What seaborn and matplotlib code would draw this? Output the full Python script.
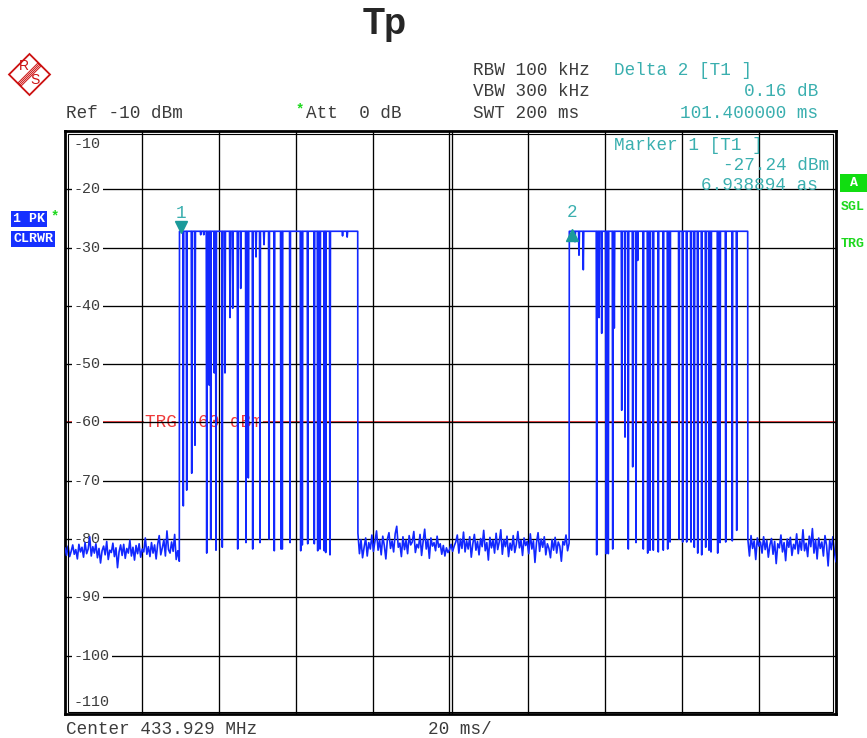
import numpy as np
import pandas as pd
import seaborn as sns
from matplotlib import pyplot as plt
from matplotlib import transforms
from matplotlib.patches import Polygon, Rectangle

# ---- data ----
burst_top = -27.2

# burst 1 : 29.7 ms .. 75.9 ms
burst1_start, burst1_end = 29.7, 75.93
burst1_dip_ms = [30.69, 31.57, 32.87, 33.72, 35.2, 36.0, 36.76, 37.43, 37.80, 38.73, 39.17,
                 40.80, 41.50, 42.80, 43.50, 44.80, 45.58, 46.95, 47.55, 48.69, 49.55,
                 50.58, 51.62, 52.92, 54.29, 56.03, 56.37, 58.37, 61.14, 61.56, 62.96,
                 64.67, 65.55, 66.15, 67.26, 67.63, 68.74, 72.0, 73.2]
burst1_dip_db = [-74.3, -71.6, -68.7, -63.9, -27.8, -27.8, -82.4, -53.6, -80.0, -51.5, -81.9,
                 -81.4, -51.5, -42.0, -40.4, -81.7, -37.0, -80.6, -69.5, -81.7, -31.6,
                 -80.6, -29.5, -80.0, -82.0, -81.7, -81.7, -80.6, -82.0, -81.0, -80.8,
                 -80.8, -82.0, -81.7, -82.0, -82.3, -82.7, -28.0, -28.2]

# burst 2 : 130.8 ms .. 177.1 ms
burst2_start, burst2_end = 130.82, 177.09
burst2_dip_ms = [132.30, 133.33, 134.45, 137.92, 138.52, 139.22, 140.34, 140.93, 142.08,
                 142.49, 144.41, 145.27, 146.12, 147.26, 148.12, 148.56, 150.01, 151.15,
                 151.75, 152.61, 153.90, 155.20, 156.34, 156.94, 159.27, 160.23, 161.27,
                 162.39, 163.24, 164.13, 165.16, 166.20, 167.06, 167.57, 169.31, 169.91,
                 171.39, 173.10, 174.24]
burst2_dip_db = [-29.0, -31.3, -33.8, -82.7, -42.0, -44.7, -82.5, -82.5, -81.7,
                 -43.8, -57.9, -62.5, -81.7, -67.6, -80.6, -32.2, -81.7, -82.4,
                 -81.9, -81.9, -82.2, -81.9, -81.7, -80.5, -80.0, -80.5, -80.5,
                 -80.5, -81.4, -82.4, -82.7, -81.4, -81.9, -82.2, -82.4, -80.6,
                 -80.5, -80.3, -78.5]

# noise floor between the bursts
noise_a = [-81.5, -82.8, -81.2, -83.0, -82.1, -81.0, -82.6, -81.8, -83.4, -80.9,
           -82.2, -81.4, -83.1, -80.6, -82.5, -81.7, -79.6, -82.9, -81.3, -82.4,
           -80.8, -83.2, -81.6, -84.1, -82.0, -81.2, -82.7, -80.4, -83.5, -81.9,
           -82.3, -80.7, -83.0, -81.5, -84.9, -82.2, -81.0, -82.8, -80.9, -83.3,
           -81.6, -82.4, -80.2, -82.9, -81.4, -83.6, -81.1, -82.5, -80.8, -83.1,
           -81.7, -82.2, -79.8, -82.6, -81.3, -83.0, -80.6, -82.4, -81.0, -83.4,
           -80.9, -79.4, -82.7, -81.5, -80.1, -82.9, -78.6, -81.8, -82.4, -80.5,
           -82.1, -79.2, -83.5, -82.0, -83.8]
noise_b = [-79.0, -82.5, -80.1, -83.2, -81.4, -79.8, -82.9, -80.6, -81.7, -79.3,
           -82.1, -80.4, -78.6, -81.9, -80.2, -82.7, -79.5, -81.1, -83.4, -80.0,
           -78.9, -81.6, -80.3, -82.2, -79.1, -77.8, -81.4, -80.7, -83.0, -79.6,
           -81.8, -80.2, -82.5, -79.4, -81.0, -80.5, -78.7, -82.3, -80.9, -81.5,
           -79.2, -82.8, -80.4, -78.3, -81.7, -80.1, -83.3, -79.8, -81.2, -80.6,
           -82.0, -79.5, -81.4, -80.8, -82.6, -81.1, -82.9, -81.5, -82.3, -81.8,
           -80.9, -82.1, -81.2, -80.5, -79.3, -82.4, -80.0, -81.6, -78.8, -82.2,
           -80.3, -81.7, -79.6, -83.1, -80.8, -79.2, -81.9, -80.4, -82.7, -79.9,
           -81.3, -78.5, -82.0, -80.6, -83.6, -79.7, -81.5, -80.2, -82.4, -79.0,
           -81.8, -80.5, -78.4, -82.6, -80.1, -81.3, -79.5, -83.0, -80.7, -81.9,
           -79.4, -82.3, -80.9, -78.7, -81.5, -80.2, -82.8, -79.8, -81.1, -80.4,
           -82.5, -79.1, -81.7, -80.3, -84.0, -80.6, -78.9, -82.1, -80.0, -81.4,
           -79.6, -82.7, -80.8, -81.6, -83.2, -80.1, -81.9, -79.7, -82.4, -80.5,
           -81.2, -83.8, -80.4, -81.0, -79.3, -82.0, -80.7]
noise_c = [-80.1, -82.9, -79.4, -81.6, -80.3, -83.5, -79.8, -81.2, -80.5, -82.4,
           -79.6, -81.8, -80.2, -83.1, -81.0, -79.9, -82.6, -80.4, -84.2, -80.8,
           -81.5, -79.3, -82.2, -80.6, -83.7, -80.0, -81.4, -79.7, -82.8, -80.9,
           -81.7, -79.1, -82.5, -80.3, -81.9, -78.4, -82.0, -80.7, -83.0, -79.5,
           -81.3, -78.2, -82.4, -80.1, -83.4, -79.8, -81.6, -80.5, -82.9, -79.4,
           -81.1, -84.6, -80.2, -81.8, -79.6, -82.3, -83.9]

marker1_ms, marker1_db = 30.09, -27.24
delta_ms, delta_db = 101.4, 0.16
trigger_db = -60

y_ticks = [-10, -20, -30, -40, -50, -60, -70, -80, -90, -100, -110]


def burst(t0, t1, dips_t, dips_db, top):
    ts, ys = [t0], [top]
    for t, d in zip(dips_t, dips_db):
        ts += [t - 0.12, t, t + 0.12]
        ys += [top, d, top]
    ts.append(t1)
    ys.append(top)
    return ts, ys


b1_t, b1_y = burst(burst1_start, burst1_end, burst1_dip_ms, burst1_dip_db, burst_top)
b2_t, b2_y = burst(burst2_start, burst2_end, burst2_dip_ms, burst2_dip_db, burst_top)

trace = pd.DataFrame({
    "ms": np.concatenate([np.linspace(0, burst1_start - 0.05, len(noise_a)), b1_t,
                          np.linspace(burst1_end + 0.05, burst2_start - 0.05, len(noise_b)), b2_t,
                          np.linspace(burst2_end + 0.05, 200, len(noise_c))]),
    "dbm": np.concatenate([noise_a, b1_y, noise_b, b2_y, noise_c]),
})

# ---- figure ----
sns.set_style("white")
plt.rcParams["font.family"] = ["Liberation Mono", "DejaVu Sans Mono"]

W, H = 867, 738
fig = plt.figure(figsize=(W / 100, H / 100), dpi=100)


def fx(px):
    return px / W


def fy(py):
    return 1 - py / H


teal = "#3aafaf"
green = "#1ed81e"
grey = "#3c3c3c"
fs = 12.7

ax = fig.add_axes([fx(65), fy(714), fx(771), 583 / H])
ax.set_xlim(0, 200)
ax.set_ylim(-110, -10)
ax.set_xticks([])
ax.set_yticks([])
for s in ax.spines.values():
    s.set_linewidth(2.0)
    s.set_color("black")
ax.add_patch(Rectangle((3 / 771, 2.5 / 583), 1 - 6 / 771, 1 - 5 / 583, transform=ax.transAxes,
                       fill=False, lw=0.8, ec="black", zorder=4))

for x in range(20, 200, 20):
    if x == 100:
        ax.axvline(x - 0.35, color="black", lw=0.95, zorder=2)
        ax.axvline(x + 0.35, color="black", lw=0.95, zorder=2)
    else:
        ax.axvline(x, color="black", lw=0.95, zorder=2)
for y in y_ticks[1:-1]:
    ax.axhline(y, color="black", lw=0.95, zorder=2)

# y labels inside the grid
for y in y_ticks:
    off = 0
    if y == -10:
        off = -13
    elif y == -110:
        off = 12
    tr = transforms.offset_copy(ax.transData, fig, y=off, units="dots")
    ax.text(2.3, y, str(y), transform=tr, fontsize=10.8, color=grey,
            va="center", ha="left", zorder=2.5,
            bbox=dict(boxstyle="square,pad=0.12", fc="white", ec="none"))

# trigger level
ax.axhline(trigger_db, color="#ff1a1a", lw=1.1, zorder=1)
ax.text(20.75, trigger_db, "TRG -60 dBm", color="#ee3a3a", fontsize=fs, va="center",
        ha="left", zorder=1.5, bbox=dict(boxstyle="square,pad=0.05", fc="white", ec="none"))

sns.lineplot(data=trace, x="ms", y="dbm", sort=False, estimator=None, ax=ax,
             color="#1228ff", lw=1.2, zorder=3)
ax.set_xlabel("")
ax.set_ylabel("")

# markers
m2_ms, m2_db = marker1_ms + delta_ms, marker1_db + delta_db
ax.plot([marker1_ms], [marker1_db], marker="v", ms=8, color="#1a9a9a", mec="#1a9a9a",
        transform=transforms.offset_copy(ax.transData, fig, y=5, units="dots"), zorder=5)
ax.plot([m2_ms], [m2_db], marker="^", ms=8, color="#1a9a9a", mec="#1a9a9a",
        transform=transforms.offset_copy(ax.transData, fig, y=-4, units="dots"), zorder=5)
ax.text(marker1_ms, marker1_db, "1", color=teal, fontsize=fs, ha="center", va="center",
        transform=transforms.offset_copy(ax.transData, fig, y=18, units="dots"), zorder=5)
ax.text(m2_ms, m2_db, "2", color=teal, fontsize=fs, ha="center", va="center",
        transform=transforms.offset_copy(ax.transData, fig, y=18, units="dots"), zorder=5)

# ---- header / footer texts ----
fig.text(fx(385), fy(25), "Tp", fontsize=26, fontweight="bold", family="Liberation Sans",
         ha="center", va="center")

fig.text(fx(472.7), fy(70.7), "RBW 100 kHz", fontsize=fs, color=grey, va="center")
fig.text(fx(472.7), fy(91.7), "VBW 300 kHz", fontsize=fs, color=grey, va="center")
fig.text(fx(472.7), fy(113.3), "SWT 200 ms", fontsize=fs, color=grey, va="center")
fig.text(fx(614), fy(70.7), "Delta 2 [T1 ]", fontsize=fs, color=teal, va="center")
fig.text(fx(818), fy(91.7), f"{delta_db:.2f} dB", fontsize=fs, color=teal, va="center", ha="right")
fig.text(fx(818), fy(113.3), f"{delta_ms:.6f} ms", fontsize=fs, color=teal, va="center", ha="right")

fig.text(fx(65.7), fy(113.3), "Ref -10 dBm", fontsize=fs, color=grey, va="center")
fig.text(fx(296), fy(109), "*", fontsize=10, color=green, va="center", fontweight="bold")
fig.text(fx(305.7), fy(113.3), "Att  0 dB", fontsize=fs, color=grey, va="center")

fig.text(fx(614), fy(145), "Marker 1 [T1 ]", fontsize=fs, color=teal, va="center")
fig.text(fx(829), fy(165.7), f"{marker1_db:.2f} dBm", fontsize=fs, color=teal,
         va="center", ha="right")
fig.text(fx(818), fy(186), "6.938894 as", fontsize=fs, color=teal, va="center", ha="right")

fig.text(fx(65.7), fy(730), "Center 433.929 MHz", fontsize=fs, color=grey, va="center")
fig.text(fx(427.7), fy(730), "20 ms/", fontsize=fs, color=grey, va="center")

# left side trace boxes
fig.text(fx(13), fy(219), "1 PK", fontsize=9.5, fontweight="bold", color="white", va="center",
         bbox=dict(boxstyle="square,pad=0.15", fc="#1530ff", ec="none"))
fig.text(fx(51), fy(216), "*", fontsize=10, fontweight="bold", color=green, va="center")
fig.text(fx(13), fy(239), "CLRWR", fontsize=9.5, fontweight="bold", color="white", va="center",
         bbox=dict(boxstyle="square,pad=0.15", fc="#1530ff", ec="none"))

# right side status
fig.patches.append(Rectangle((fx(840), fy(192)), fx(27), 18 / H, transform=fig.transFigure,
                             fc="#11dd11", ec="none"))
fig.text(fx(854), fy(183), "A", fontsize=9.5, fontweight="bold", color="white", va="center",
         ha="center")
fig.text(fx(840.5), fy(207), "SGL", fontsize=9.5, fontweight="bold", color=green, va="center")
fig.text(fx(840.5), fy(244), "TRG", fontsize=9.5, fontweight="bold", color=green, va="center")

# R&S logo
lg = fig.add_axes([0, fy(100), fx(60), 50 / H])
lg.set_xlim(0, 60)
lg.set_ylim(100, 50)
lg.axis("off")
red = "#cc1111"
lg.add_patch(Polygon([(9, 74.5), (29.5, 54), (50, 74.5), (29.5, 95)], closed=True,
                     fill=False, ec=red, lw=1.3))
for o in [-2.2, -0.75, 0.75, 2.2]:
    lg.plot([39.75 + o * 0.707, 19.25 + o * 0.707], [64.25 + o * 0.707, 84.75 + o * 0.707],
            color=red, lw=0.7)
lg.text(24, 66.5, "R", color=red, fontsize=10, family="Liberation Sans", ha="center", va="center")
lg.text(34.5, 80.5, "S", color=red, fontsize=10, family="Liberation Sans", ha="center", va="center")

fig.savefig("out.png", dpi=100)
